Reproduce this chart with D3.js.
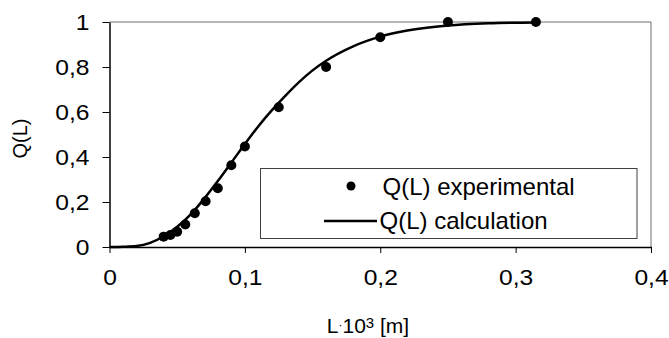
<!DOCTYPE html>
<html>
<head>
<meta charset="utf-8">
<script src="https://cdn.jsdelivr.net/npm/d3@7"></script>
<style>
  body { margin: 0; background: #fff; }
  svg { display: block; font-family: "Liberation Sans", Arial, sans-serif; }
</style>
</head>
<body>
<div id="chart"></div>
<script>
// experimental points (sieve sizes)
const expL = [0.04, 0.045, 0.05, 0.056, 0.063, 0.071, 0.08, 0.09, 0.1, 0.125, 0.16, 0.2, 0.25, 0.315];
const expQ = [0.046, 0.053, 0.068, 0.10, 0.15, 0.203, 0.261, 0.363, 0.447, 0.621, 0.80, 0.932, 1.0, 1.0];

// calculated curve
const calcL = [0, 0.01, 0.02, 0.03, 0.04, 0.05, 0.06, 0.07, 0.08, 0.09, 0.1, 0.11, 0.12, 0.13, 0.14, 0.15, 0.16, 0.18, 0.2, 0.22, 0.25, 0.28, 0.315];
const calcQ = [0, 0.001, 0.004, 0.018, 0.048, 0.09, 0.145, 0.215, 0.293, 0.375, 0.458, 0.537, 0.608, 0.673, 0.733, 0.785, 0.828, 0.892, 0.935, 0.962, 0.984, 0.994, 0.998];

const xTicks = [0, 0.1, 0.2, 0.3, 0.4];
const yTicks = [0, 0.2, 0.4, 0.6, 0.8, 1];
const legendLabels = ["Q(L) experimental", "Q(L) calculation"];

const W = 669, H = 338;
const fmt = d => String(d).replace(".", ",");
const stretch = 1.12;

const svg = d3.select("#chart").append("svg")
  .attr("width", W)
  .attr("height", H);

const x = d3.scaleLinear().domain([0, 0.4]).range([109.5, 651]);
const y = d3.scaleLinear().domain([0, 1]).range([247, 22]);

// plot area border (top / right)
svg.append("path")
  .attr("d", `M${x(0)},${y(1)}H${x(0.4)}V${y(0)}`)
  .attr("fill", "none")
  .attr("stroke", "#6e6e6e")
  .attr("stroke-width", 1);

// axes
const yAxis = svg.append("g")
  .attr("transform", `translate(${x(0)},0)`)
  .call(d3.axisLeft(y).tickValues(yTicks).tickFormat(fmt).tickSize(7).tickSizeOuter(0));
yAxis.selectAll("text")
  .attr("x", -20 / stretch)
  .attr("dy", "0.35em")
  .attr("transform", `scale(${stretch},1)`)
  .style("font-size", "22px")
  .style("fill", "#000");

const xAxis = svg.append("g")
  .attr("transform", `translate(0,${y(0)})`)
  .call(d3.axisBottom(x).tickValues(xTicks).tickFormat(fmt).tickSize(6).tickSizeOuter(0));
xAxis.selectAll("text")
  .attr("y", 38)
  .attr("dy", 0)
  .attr("transform", `scale(${stretch},1)`)
  .style("font-size", "22px")
  .style("fill", "#000");

svg.selectAll(".domain").attr("stroke", "#000").attr("stroke-width", 1.5);
svg.selectAll(".tick line").attr("stroke", "#000").attr("stroke-width", 1);
svg.selectAll(".tick text").attr("font-family", null);

// calculated curve
const line = d3.line()
  .x(d => x(d[0]))
  .y(d => y(d[1]))
  .curve(d3.curveMonotoneX);

svg.append("path")
  .datum(calcL.map((l, i) => [l, calcQ[i]]))
  .attr("fill", "none")
  .attr("stroke", "#000")
  .attr("stroke-width", 2.5)
  .attr("d", line);

// experimental points
svg.append("g")
  .selectAll("circle")
  .data(expL.map((l, i) => [l, expQ[i]]))
  .join("circle")
  .attr("cx", d => x(d[0]))
  .attr("cy", d => y(d[1]))
  .attr("r", 5)
  .attr("fill", "#000");

// legend
const legend = svg.append("g");
legend.append("rect")
  .attr("x", 260.5)
  .attr("y", 168.5)
  .attr("width", 376.5)
  .attr("height", 70)
  .attr("fill", "#fff")
  .attr("stroke", "#404040")
  .attr("stroke-width", 1);
legend.append("circle")
  .attr("cx", 351)
  .attr("cy", 186)
  .attr("r", 4.5)
  .attr("fill", "#000");
legend.append("line")
  .attr("x1", 324)
  .attr("x2", 377)
  .attr("y1", 221)
  .attr("y2", 221)
  .attr("stroke", "#000")
  .attr("stroke-width", 2.5);
legend.selectAll("text")
  .data(legendLabels)
  .join("text")
  .attr("x", (d, i) => i === 0 ? 382.5 : 379.5)
  .attr("y", (d, i) => i === 0 ? 195 : 229)
  .style("font-size", "24px")
  .text(d => d);

// axis titles
svg.append("text")
  .attr("transform", "translate(27,138.5) rotate(-90)")
  .attr("text-anchor", "middle")
  .style("font-size", "20px")
  .text("Q(L)");

const xTitle = svg.append("text")
  .attr("x", 368)
  .attr("y", 333)
  .attr("text-anchor", "middle")
  .style("font-size", "21px");
xTitle.append("tspan").text("L");
xTitle.append("tspan").style("font-size", "12px").attr("dy", -4).text("·");
xTitle.append("tspan").attr("dy", 4).text("10");
xTitle.append("tspan").style("font-size", "15px").attr("dy", -5).text("3");
xTitle.append("tspan").attr("dy", 5).text(" [m]");
</script>
</body>
</html>
